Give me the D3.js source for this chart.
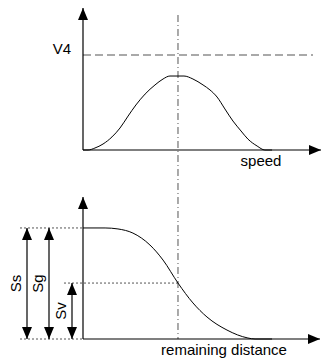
<!DOCTYPE html>
<html><head><meta charset="utf-8">
<script src="https://cdn.jsdelivr.net/npm/d3@7"></script>
<style>body{margin:0;background:#fff}svg{display:block}</style>
</head><body>
<script>
// ---- data ----
const speedX = [0, 2.2, 5.2, 8.7, 12.6, 16.1, 19.6, 23.0, 27.0, 31.3, 34.8, 37.8, 43.9, 47.8, 52.2, 55.2, 58.3, 61.7, 65.2, 68.7, 71.7, 75.7, 79.1, 82.2];
const speedY = [0, 0, 1.4, 4.2, 9.2, 15.5, 23.9, 31.7, 39.4, 45.8, 50.0, 52.1, 52.1, 50.0, 45.8, 42.3, 37.3, 28.9, 20.4, 13.4, 7.7, 2.8, 0, 0];
const distX = [0, 9.6, 15.2, 21.7, 29.1, 34.8, 41.3, 47.8, 53.9, 62.6, 71.7, 74.8, 82.2];
const distY = [78.2, 78.2, 77.5, 74.6, 66.2, 55.6, 39.4, 25.4, 15.5, 6.3, 0.7, 0, 0];
const v4Level = 66.9;
const markX = 41.3;
const ssLevel = 78.2;
const svLevel = 39.4;
const labels = {v4: "V4", speed: "speed", dist: "remaining distance", ss: "Ss", sg: "Sg", sv: "Sv"};

const W = 321, H = 361;
const svg = d3.select("body").append("svg").attr("width", W).attr("height", H)
  .style("font-family", "'Liberation Sans', Arial, sans-serif");

const x = d3.scaleLinear().domain([0, 100]).range([83, 313]);
const yTop = d3.scaleLinear().domain([0, 100]).range([150, 8]);
const yBot = d3.scaleLinear().domain([0, 100]).range([339, 197]);

const defs = svg.append("defs");
function marker(id, orient) {
  defs.append("marker").attr("id", id).attr("viewBox", "0 0 12 10")
    .attr("refX", 12).attr("refY", 5).attr("markerWidth", 12).attr("markerHeight", 10)
    .attr("markerUnits", "userSpaceOnUse").attr("orient", orient)
    .append("path").attr("d", "M0,0L12,5L0,10Z").attr("fill", "#000");
}
marker("ah", "auto");
marker("ahs", "auto-start-reverse");

function line(x1, y1, x2, y2, opts = {}) {
  const l = svg.append("line").attr("x1", x1).attr("y1", y1).attr("x2", x2).attr("y2", y2)
    .attr("stroke", opts.stroke || "#000").attr("stroke-width", opts.w || 1.2);
  if (opts.dash) l.attr("stroke-dasharray", opts.dash);
  if (opts.end) l.attr("marker-end", "url(#ah)");
  if (opts.start) l.attr("marker-start", "url(#ahs)");
  return l;
}

const FS = 15;

// vertical dash-dot marker line
line(x(markX), 15, x(markX), yBot(0), {stroke: "#555", w: 1, dash: "7,3,1,3"});

// V4 dashed
line(x(0), yTop(v4Level), x(100), yTop(v4Level), {stroke: "#555", w: 1.2, dash: "8,4"});
svg.append("text").attr("x", 71).attr("y", yTop(v4Level) - 1).attr("text-anchor", "end")
  .attr("font-size", FS).text(labels.v4);

// top axes
line(x(0), yTop(0), x(0), yTop(100), {end: true});
line(x(0), yTop(0), 321, yTop(0), {end: true});
svg.append("text").attr("x", 261).attr("y", 166).attr("text-anchor", "middle")
  .attr("font-size", FS).text(labels.speed);

// top curve
svg.append("path").datum(speedX.map((d, i) => [d, speedY[i]]))
  .attr("fill", "none").attr("stroke", "#000").attr("stroke-width", 1)
  .attr("d", d3.line().x(d => x(d[0])).y(d => yTop(d[1])).curve(d3.curveMonotoneX));

// bottom dotted guides
line(20, yBot(ssLevel), x(0), yBot(ssLevel), {stroke: "#555", w: 1, dash: "2,2"});
line(20, yBot(0), x(0), yBot(0), {stroke: "#555", w: 1, dash: "2,2"});
line(64, yBot(svLevel), x(markX), yBot(svLevel), {stroke: "#555", w: 1, dash: "2,2"});

// bottom axes
line(x(0), yBot(0), x(0), yBot(100), {end: true});
line(x(0), yBot(0), 320, yBot(0), {end: true});
svg.append("text").attr("x", 224).attr("y", 355).attr("text-anchor", "middle")
  .attr("font-size", FS).text(labels.dist);

// bottom curve
svg.append("path").datum(distX.map((d, i) => [d, distY[i]]))
  .attr("fill", "none").attr("stroke", "#000").attr("stroke-width", 1)
  .attr("d", d3.line().x(d => x(d[0])).y(d => yBot(d[1])).curve(d3.curveMonotoneX));

// dimension arrows
const dims = [
  {ax: 27, top: ssLevel, label: labels.ss},
  {ax: 49, top: ssLevel, label: labels.sg},
  {ax: 72, top: svLevel, label: labels.sv}
];
dims.forEach(d => {
  line(d.ax, yBot(d.top), d.ax, yBot(0), {w: 1.2, start: true, end: true});
  const cy = (yBot(d.top) + yBot(0)) / 2;
  svg.append("text").attr("transform", `translate(${d.ax - 6},${cy}) rotate(-90)`)
    .attr("text-anchor", "middle").attr("font-size", FS).text(d.label);
});
</script>
</body></html>
